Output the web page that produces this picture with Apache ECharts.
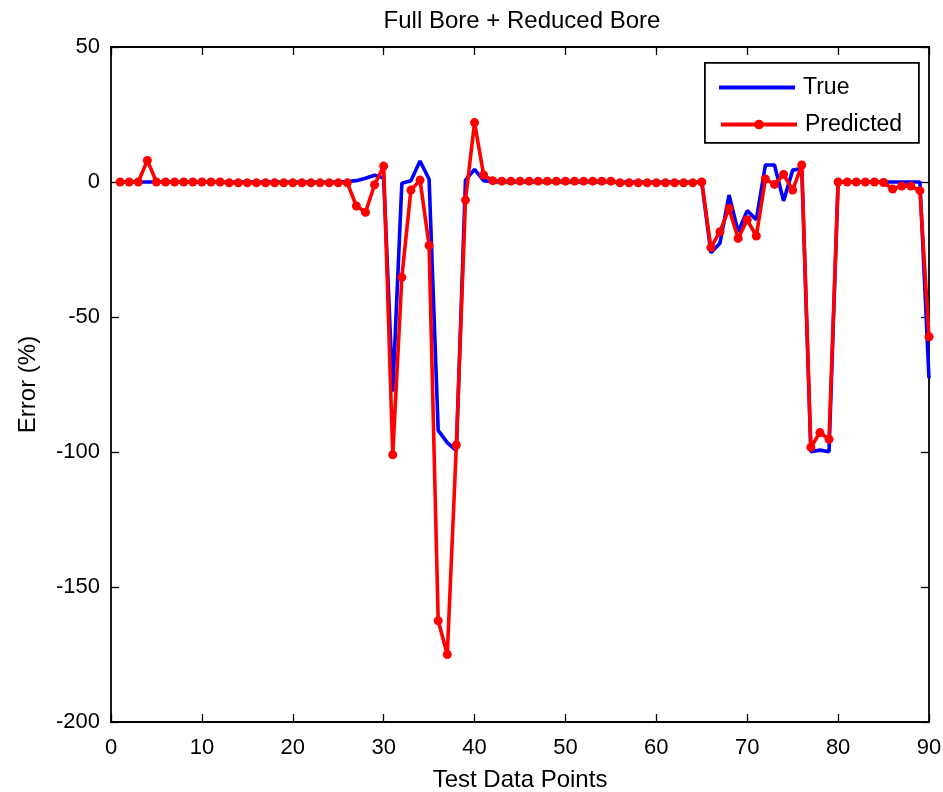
<!DOCTYPE html>
<html>
<head>
<meta charset="utf-8">
<script src="https://cdn.jsdelivr.net/npm/echarts@6/dist/echarts.min.js"></script>
<style>html,body{margin:0;padding:0;background:#fff}#c{width:943px;height:792px}</style>
</head>
<body>
<div id="c"></div>
<script>
const xValues = Array.from({length: 90}, (_, i) => i + 1);
const trueValues = [
  0, 0, 0, 0, 0, 0, 0, 0, 0, 0,
  0, 0, 0, 0, 0, 0, 0, 0, 0, 0,
  0, 0, 0, 0, 0, 0.2, 0.5, 1.4, 2.5, 1.5,
  -77.7, -0.5, 0.5, 7.8, 1, -92, -96.5, -99.5, 0.7, 4.7,
  0.5, 0, 0, 0, 0, 0, 0, 0, 0, 0,
  0, 0, 0, 0, 0, 0, 0, 0, 0, 0,
  0, 0, 0, 0, 0, -26.2, -22.7, -4.8, -18.4, -10.6,
  -14, 6.3, 6.3, -7, 4.4, 5, -99.9, -99.3, -99.9, 0,
  0, 0, 0, 0, 0, 0, 0, 0, 0, -72.7
];
const predValues = [
  0, 0, 0, 8, 0, 0, 0, 0, 0, 0,
  0, 0, -0.3, -0.3, -0.3, -0.3, -0.3, -0.3, -0.3, -0.3,
  -0.3, -0.3, -0.3, -0.3, -0.3, -0.3, -8.9, -11.2, -1, 5.9,
  -101, -35.3, -3, 0.7, -23.5, -162.5, -175, -97.4, -6.7, 22,
  2.6, 0.5, 0.3, 0.3, 0.3, 0.3, 0.3, 0.3, 0.3, 0.3,
  0.3, 0.3, 0.3, 0.3, 0.3, -0.3, -0.3, -0.3, -0.3, -0.3,
  -0.3, -0.3, -0.3, -0.3, 0, -24.3, -18.4, -9.8, -20.9, -14,
  -20, 1.1, -0.9, 2.8, -3, 6.3, -98.3, -92.8, -95.3, 0,
  0, 0, 0, 0, -0.2, -2.6, -1.5, -1.5, -3.2, -57.3
];
const xTicks = [0, 10, 20, 30, 40, 50, 60, 70, 80, 90];
const yTicks = [50, 0, -50, -100, -150, -200];

const FONT = '"Liberation Sans", Arial, sans-serif';
const chart = echarts.init(document.getElementById('c'), null, {renderer: 'canvas'});
const axisCommon = {
  axisLine: {show: true, onZero: false, lineStyle: {color: '#000', width: 1.8}},
  axisTick: {show: true, inside: true, length: 8, lineStyle: {color: '#000', width: 1.3}},
  splitLine: {show: false}
};
const legendText = {fontFamily: FONT, fontSize: 23, color: '#000', padding: [0, 0, 0, 3]};
chart.setOption({
  backgroundColor: '#fff',
  animation: false,
  title: {
    text: 'Full Bore + Reduced Bore',
    left: 517, top: 4, textAlign: 'center',
    textStyle: {fontFamily: FONT, fontSize: 24, fontWeight: 'normal', color: '#000'}
  },
  grid: {left: 111, top: 47, width: 818, height: 675, containLabel: false, outerBoundsMode: 'none'},
  graphic: [{
    type: 'rect', left: 704, top: 62, z: 100,
    shape: {width: 214, height: 80},
    style: {fill: '#fff', stroke: '#000', lineWidth: 1.8}
  }],
  legend: [
    {
      left: 719, top: 76, padding: 0, z: 200,
      itemWidth: 76, itemHeight: 4, icon: 'rect',
      textStyle: legendText,
      data: ['True']
    },
    {
      left: 719, top: 113, padding: 0, z: 200,
      itemWidth: 76, itemHeight: 12,
      lineStyle: {width: 4},
      textStyle: legendText,
      data: ['Predicted']
    }
  ],
  xAxis: [
    Object.assign({}, axisCommon, {
      type: 'value', min: 0, max: 90, interval: 10, position: 'bottom',
      name: 'Test Data Points', nameLocation: 'middle', nameGap: 46,
      nameTextStyle: {fontFamily: FONT, fontSize: 24, color: '#000'},
      axisLabel: {fontFamily: FONT, fontSize: 22, color: '#000', margin: 15,
        formatter: v => xTicks.includes(v) ? String(v) : ''}
    }),
    Object.assign({}, axisCommon, {
      type: 'value', min: 0, max: 90, interval: 10, position: 'top',
      axisLabel: {show: false}
    })
  ],
  yAxis: [
    Object.assign({}, axisCommon, {
      type: 'value', min: -200, max: 50, interval: 50, position: 'left',
      name: 'Error (%)', nameLocation: 'middle', nameGap: 71, nameRotate: 90,
      nameTextStyle: {fontFamily: FONT, fontSize: 24, color: '#000'},
      axisLabel: {fontFamily: FONT, fontSize: 22, color: '#000', margin: 11,
        padding: [5, 0, 0, 0],
        formatter: v => yTicks.includes(v) ? String(v) : ''}
    }),
    Object.assign({}, axisCommon, {
      type: 'value', min: -200, max: 50, interval: 50, position: 'right',
      axisLabel: {show: false}
    })
  ],
  series: [
    {
      name: 'True', type: 'line',
      data: xValues.map((x, i) => [x, trueValues[i]]),
      showSymbol: false, symbol: 'none',
      lineStyle: {color: '#0000ff', width: 3.6},
      itemStyle: {color: '#0000ff'},
      z: 2
    },
    {
      name: 'Predicted', type: 'line',
      data: xValues.map((x, i) => [x, predValues[i]]),
      symbol: 'circle', symbolSize: 9, showSymbol: true,
      lineStyle: {color: '#ff0000', width: 3.6},
      itemStyle: {color: '#ff0000'},
      z: 3
    }
  ]
});
</script>
</body>
</html>
